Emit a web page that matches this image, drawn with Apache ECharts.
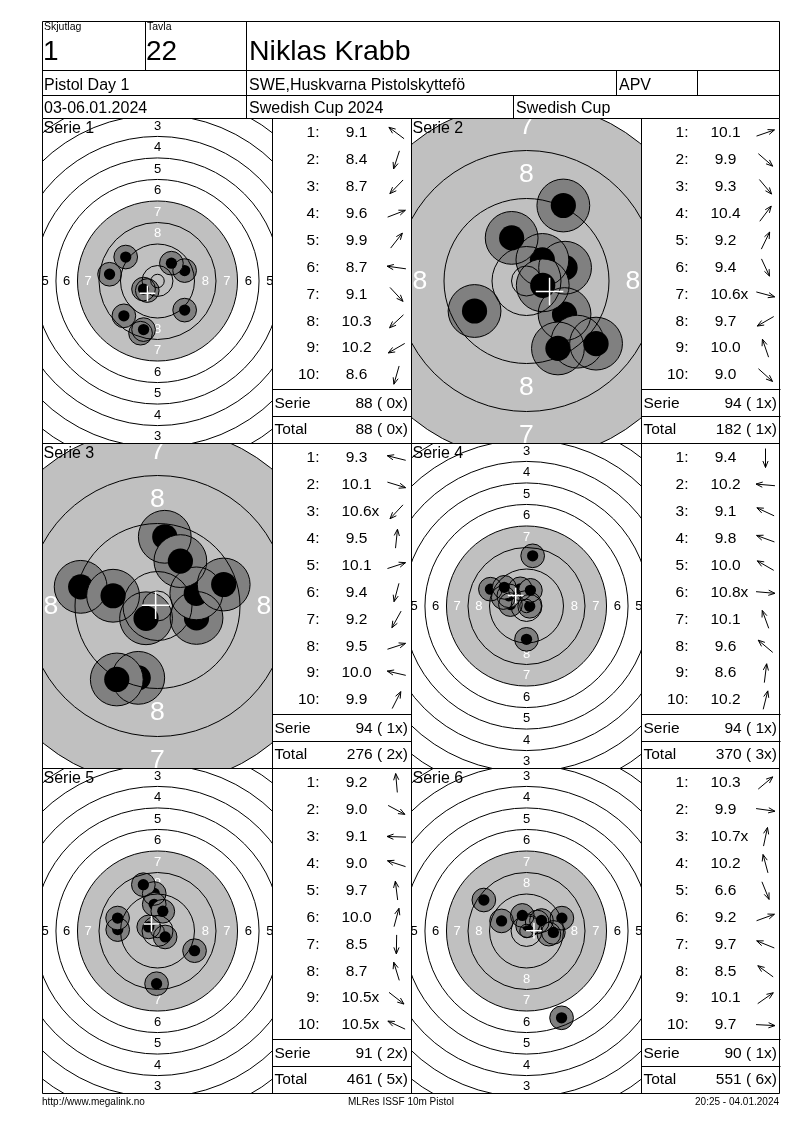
<!DOCTYPE html>
<html>
<head>
<meta charset="utf-8">
<script src="https://cdn.jsdelivr.net/npm/echarts@6/dist/echarts.min.js"></script>
<style>
  html, body { margin: 0; padding: 0; background: #fff; }
  #main { width: 800px; height: 1130px; }
</style>
</head>
<body>
<div id="main"></div>
<script>
// header
const shooterLot = '1';
const shooterTarget = '22';
const shooterName = 'Niklas Krabb';
const eventName = 'Pistol Day 1';
const clubName = 'SWE,Huskvarna Pistolskyttefö';
const classCode = 'APV';
const eventDates = '03-06.01.2024';
const competitionName = 'Swedish Cup 2024';
const cupName = 'Swedish Cup';
const footerTexts = ['http://www.megalink.no', 'MLRes ISSF 10m Pistol', '20:25 - 04.01.2024'];

// shots: score as printed, direction in degrees (0 = right, 90 = up)
const serieNames = ['Serie 1', 'Serie 2', 'Serie 3', 'Serie 4', 'Serie 5', 'Serie 6'];
const serie1Scores = ['9.1', '8.4', '8.7', '9.6', '9.9', '8.7', '9.1', '10.3', '10.2', '8.6'];
const serie1Dirs = [143, -108, -134, 21, 52, 172, -47, -137, -150, -106];
const serie2Scores = ['10.1', '9.9', '9.3', '10.4', '9.2', '9.4', '10.6x', '9.7', '10.0', '9.0'];
const serie2Dirs = [19, -41, -50, 53, 64, -65, -15, 210, 109, -42];
const serie3Scores = ['9.3', '10.1', '10.6x', '9.5', '10.1', '9.4', '9.2', '9.5', '10.0', '9.9'];
const serie3Dirs = [166, -17, -133, 84, 18, -105, -119, 18, 167, 63];
const serie4Scores = ['9.4', '10.2', '9.1', '9.8', '10.0', '10.8x', '10.1', '9.6', '8.6', '10.2'];
const serie4Dirs = [-90, 175, 155, 160, 150, -5, 110, 140, 83, 76];
const serie5Scores = ['9.2', '9.0', '9.1', '9.0', '9.7', '10.0', '8.5', '8.7', '10.5x', '10.5x'];
const serie5Dirs = [95, -28, 178, 162, 97, 75, -91, 107, -38, 155];
const serie6Scores = ['10.3', '9.9', '10.7x', '10.2', '6.6', '9.2', '9.7', '8.5', '10.1', '9.7'];
const serie6Dirs = [40, -8, 78, 105, -68, 20, 158, 144, 35, -3];

// ring numbers printed on the target
const ringNumbers = [1, 2, 3, 4, 5, 6, 7, 8];

const FONT = '"Liberation Sans", Arial, sans-serif';
const rowTops = [118.5, 443.5, 768.5];
const rowH = 325;
const targetLefts = [42.5, 411.5];
const tableLefts = [272.5, 641.5];
const targetW = 230;
const tableW = 139;

// 10m pistol target (mm)
const RING1 = 77.75, RING_STEP = 8, INNER_TEN = 2.5, BLACK_R = 29.75;
const SHOT_R = 4.4, DOT_R = 2.1;

const panels = [
  { scores: serie1Scores, dirs: serie1Dirs, col: 0, row: 0, pxPerMm: 2.69 },
  { scores: serie2Scores, dirs: serie2Dirs, col: 1, row: 0, pxPerMm: 6.0 },
  { scores: serie3Scores, dirs: serie3Dirs, col: 0, row: 1, pxPerMm: 6.0 },
  { scores: serie4Scores, dirs: serie4Dirs, col: 1, row: 1, pxPerMm: 2.69 },
  { scores: serie5Scores, dirs: serie5Dirs, col: 0, row: 2, pxPerMm: 2.69 },
  { scores: serie6Scores, dirs: serie6Dirs, col: 1, row: 2, pxPerMm: 2.69 }
];

function shotXY(score, dir) {
  const d = Math.max(0, (11 - parseFloat(score) - 0.05) * RING_STEP);
  const a = dir * Math.PI / 180;
  return [d * Math.cos(a), d * Math.sin(a)];
}

function clip(params) {
  const c = params.coordSys;
  return { type: 'rect', shape: { x: c.x, y: c.y, width: c.width, height: c.height } };
}

const chart = echarts.init(document.getElementById('main'), null, { renderer: 'canvas' });

const grids = [], xAxes = [], yAxes = [], series = [];
panels.forEach((p, i) => {
  grids.push({ left: targetLefts[p.col], top: rowTops[p.row], width: targetW, height: rowH, show: false });
  const hx = targetW / 2 / p.pxPerMm, hy = rowH / 2 / p.pxPerMm;
  xAxes.push({ gridIndex: i, type: 'value', min: -hx, max: hx, show: false });
  yAxes.push({ gridIndex: i, type: 'value', min: -hy, max: hy, show: false });

  const shots = p.scores.map((s, k) => shotXY(s, p.dirs[k]));
  const mx = shots.reduce((a, b) => a + b[0], 0) / shots.length;
  const my = shots.reduce((a, b) => a + b[1], 0) / shots.length;
  const fs = 2 + 4.1 * p.pxPerMm;
  const base = { type: 'custom', coordinateSystem: 'cartesian2d', xAxisIndex: i, yAxisIndex: i, silent: true, animation: false };

  // black area + ring numbers
  series.push(Object.assign({}, base, {
    z: 1,
    data: [[0, 0]],
    renderItem: (params, api) => {
      const c = api.coord([0, 0]);
      const px = mm => api.size([mm, 0])[0];
      const children = [{ type: 'circle', shape: { cx: c[0], cy: c[1], r: px(BLACK_R) }, style: { fill: '#c0c0c0' } }];
      ringNumbers.forEach(k => {
        const rr = px(RING1 - RING_STEP * (k - 1) - RING_STEP / 2);
        [[0, -1], [0, 1], [-1, 0], [1, 0]].forEach(([dx, dy]) => {
          children.push({ type: 'text', style: {
            text: String(k), x: c[0] + dx * rr, y: c[1] + dy * rr + 0.5,
            fill: k >= 7 ? '#fff' : '#000', font: fs.toFixed(1) + 'px ' + FONT,
            align: 'center', verticalAlign: 'middle' } });
        });
      });
      return { type: 'group', clipPath: clip(params), children };
    }
  }));

  // shot fills
  series.push(Object.assign({}, base, {
    z: 2,
    data: shots,
    renderItem: (params, api) => {
      const c = api.coord([api.value(0), api.value(1)]);
      const r = api.size([SHOT_R, 0])[0], rb = api.size([DOT_R, 0])[0];
      return { type: 'group', clipPath: clip(params), children: [
        { type: 'circle', shape: { cx: c[0], cy: c[1], r }, style: { fill: '#808080' } },
        { type: 'circle', shape: { cx: c[0], cy: c[1], r: rb }, style: { fill: '#000' } }
      ] };
    }
  }));

  // ring lines
  series.push(Object.assign({}, base, {
    z: 3,
    data: [[0, 0]],
    renderItem: (params, api) => {
      const c = api.coord([0, 0]);
      const px = mm => api.size([mm, 0])[0];
      const children = [];
      for (let k = 1; k <= 10; k++) {
        children.push({ type: 'circle', shape: { cx: c[0], cy: c[1], r: px(RING1 - RING_STEP * (k - 1)) },
          style: { fill: 'none', stroke: '#000', lineWidth: 1 } });
      }
      children.push({ type: 'circle', shape: { cx: c[0], cy: c[1], r: px(INNER_TEN) },
        style: { fill: 'none', stroke: '#000', lineWidth: 1 } });
      return { type: 'group', clipPath: clip(params), children };
    }
  }));

  // shot outlines
  series.push(Object.assign({}, base, {
    z: 3,
    data: shots,
    renderItem: (params, api) => {
      const c = api.coord([api.value(0), api.value(1)]);
      const r = api.size([SHOT_R, 0])[0];
      return { type: 'group', clipPath: clip(params), children: [
        { type: 'circle', shape: { cx: c[0], cy: c[1], r }, style: { fill: 'none', stroke: '#000', lineWidth: 1 } }
      ] };
    }
  }));

  // mean point of impact
  series.push(Object.assign({}, base, {
    z: 4,
    data: [[mx, my]],
    renderItem: (params, api) => {
      const c = api.coord([api.value(0), api.value(1)]);
      const h = 3 + api.size([1.8, 0])[0];
      const st = { stroke: '#fff', lineWidth: 1.5 };
      return { type: 'group', clipPath: clip(params), children: [
        { type: 'line', shape: { x1: c[0] - h, y1: c[1], x2: c[0] + h, y2: c[1] }, style: st },
        { type: 'line', shape: { x1: c[0], y1: c[1] - h, x2: c[0], y2: c[1] + h }, style: st }
      ] };
    }
  }));
});

// ---- table, header, footer ----
const g = [];
const measure = document.createElement('canvas').getContext('2d');
function line(x1, y1, x2, y2) {
  g.push({ type: 'line', z: 10, silent: true, shape: { x1, y1, x2, y2 }, style: { stroke: '#000', lineWidth: 1 } });
}
function text(t, x, y, size, align) {
  g.push({ type: 'text', z: 10, silent: true, style: {
    text: t, x, y, font: size + 'px ' + FONT, fill: '#000', align: align || 'left', verticalAlign: 'middle' } });
}
function arrow(cx, cy, deg) {
  const a = deg * Math.PI / 180, L = 9.5, ux = Math.cos(a), uy = -Math.sin(a);
  const tip = [cx + ux * L, cy + uy * L], tail = [cx - ux * L, cy - uy * L];
  const h = 7, sp = 0.38;
  const barb = t => [tip[0] + h * (-ux * Math.cos(t) + uy * Math.sin(t)), tip[1] + h * (-ux * Math.sin(t) - uy * Math.cos(t))];
  const st = { stroke: '#000', lineWidth: 1, fill: null };
  g.push({ type: 'polyline', z: 10, silent: true, shape: { points: [tail, tip] }, style: st });
  g.push({ type: 'polyline', z: 10, silent: true, shape: { points: [barb(sp), tip, barb(-sp)] }, style: st });
}

// header
const L = 42.5, R = 779.5;
[21.5, 70.5, 95.5, 118.5].forEach(y => line(L, y, R, y));
line(L, 21.5, L, 118.5);
line(R, 21.5, R, 118.5);
line(145.5, 21.5, 145.5, 70.5);
line(246.5, 21.5, 246.5, 118.5);
line(616.5, 70.5, 616.5, 95.5);
line(697.5, 70.5, 697.5, 95.5);
line(513.5, 95.5, 513.5, 118.5);
text('Skjutlag', 44, 27, 10.5);
text('Tavla', 147, 27, 10.5);
text(shooterLot, 43, 52, 28);
text(shooterTarget, 146, 52, 28);
text(shooterName, 249, 52, 28.5);
text(eventName, 44, 86, 16);
text(clubName, 249, 86, 16);
text(classCode, 619, 86, 16);
text(eventDates, 44, 108.5, 16);
text(competitionName, 249, 108.5, 16);
text(cupName, 516, 108.5, 16);

// body grid
[42.5, 272.5, 411.5, 641.5, 779.5].forEach(x => line(x, 118.5, x, 1093.5));
[443.5, 768.5, 1093.5].forEach(y => line(L, y, R, y));

let total = 0, totalX = 0;
panels.forEach((p, i) => {
  const tl = tableLefts[p.col], rt = rowTops[p.row];
  text(serieNames[i], targetLefts[p.col] + 1, rt + 10, 16);
  let sum = 0, xs = 0;
  p.scores.forEach((s, k) => {
    const y = rt + 14.5 + 26.9 * k;
    const num = s.replace('x', '');
    text((k + 1) + ':', tl + 47, y, 15.5, 'right');
    text(num, tl + 84, y, 15.5, 'center');
    if (s.endsWith('x')) {
      measure.font = '15.5px ' + FONT;
      text('x', tl + 84 + measure.measureText(num).width / 2, y, 15.5);
      xs++;
    }
    sum += Math.floor(parseFloat(num));
    arrow(tl + 124, y, p.dirs[k]);
  });
  total += sum; totalX += xs;
  line(tl, rt + 271, tl + tableW, rt + 271);
  line(tl, rt + 298, tl + tableW, rt + 298);
  text('Serie', tl + 2, rt + 285.5, 15.5);
  text(sum + ' (' + String(xs).padStart(2, ' ') + 'x)', tl + 135.5, rt + 285.5, 15.5, 'right');
  text('Total', tl + 2, rt + 311.5, 15.5);
  text(total + ' (' + String(totalX).padStart(2, ' ') + 'x)', tl + 135.5, rt + 311.5, 15.5, 'right');
});

// footer
text(footerTexts[0], 42, 1102, 10);
text(footerTexts[1], 401, 1102, 10, 'center');
text(footerTexts[2], 779, 1102, 10, 'right');

chart.setOption({
  animation: false,
  grid: grids,
  xAxis: xAxes,
  yAxis: yAxes,
  series: series,
  graphic: g
});
</script>
</body>
</html>
